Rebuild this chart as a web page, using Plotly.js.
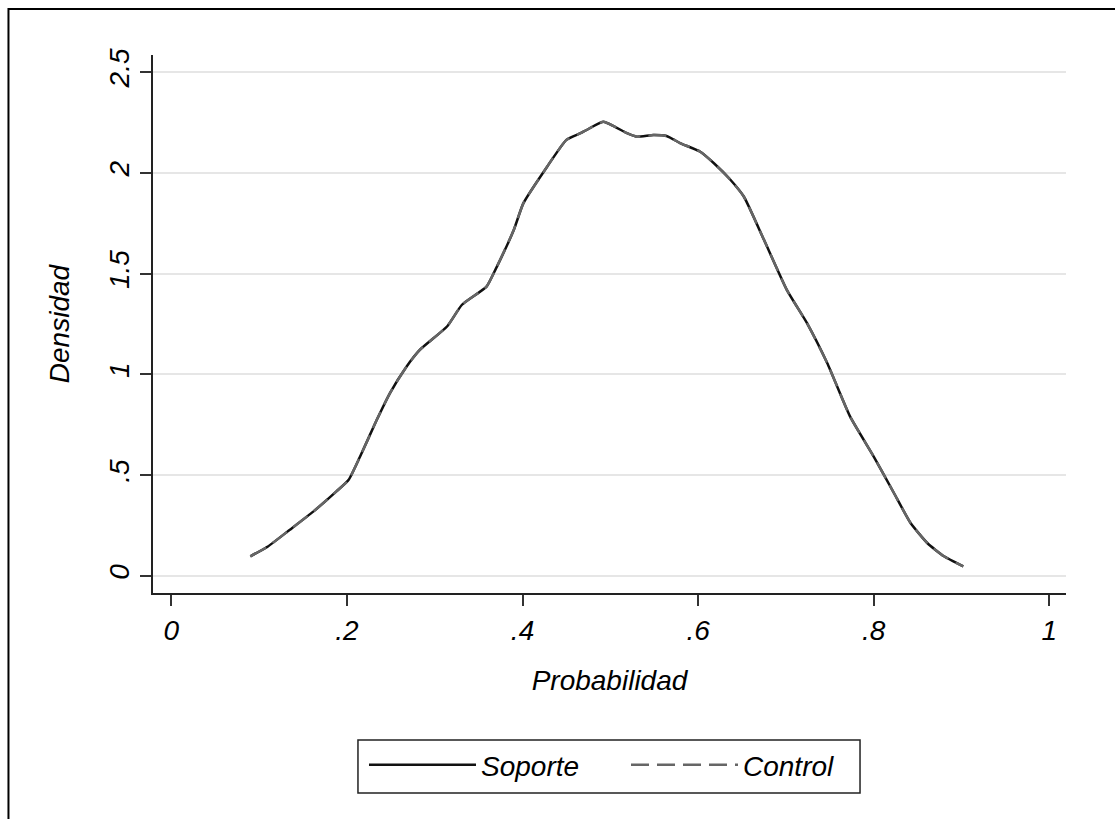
<!DOCTYPE html>
<html>
<head>
<meta charset="utf-8">
<script src="https://cdn.plot.ly/plotly-3.0.1.min.js"></script>
<style>html,body{margin:0;padding:0;background:#fff;}#chart{width:1115px;height:819px;}</style>
</head>
<body>
<div id="chart"></div>
<script>
// Data (kernel density of propensity score)
const probabilidad = [0.090, 0.110, 0.135, 0.162, 0.188, 0.202, 0.215, 0.234, 0.249, 0.268, 0.283, 0.314, 0.331, 0.359, 0.369, 0.390, 0.401, 0.428, 0.450, 0.466, 0.473, 0.492, 0.519, 0.530, 0.549, 0.564, 0.580, 0.602, 0.618, 0.637, 0.652, 0.675, 0.701, 0.724, 0.747, 0.773, 0.800, 0.823, 0.842, 0.861, 0.880, 0.902];
const densidadSoporte = [0.098, 0.147, 0.230, 0.321, 0.420, 0.478, 0.593, 0.775, 0.908, 1.040, 1.122, 1.238, 1.346, 1.436, 1.519, 1.717, 1.850, 2.031, 2.164, 2.197, 2.213, 2.254, 2.197, 2.180, 2.188, 2.183, 2.147, 2.106, 2.048, 1.965, 1.883, 1.668, 1.420, 1.255, 1.057, 0.792, 0.593, 0.412, 0.263, 0.164, 0.098, 0.048];
const densidadControl = [0.098, 0.147, 0.230, 0.321, 0.420, 0.478, 0.593, 0.775, 0.908, 1.040, 1.122, 1.238, 1.346, 1.436, 1.519, 1.717, 1.850, 2.031, 2.164, 2.197, 2.213, 2.254, 2.197, 2.180, 2.188, 2.183, 2.147, 2.106, 2.048, 1.965, 1.883, 1.668, 1.420, 1.255, 1.057, 0.792, 0.593, 0.412, 0.263, 0.164, 0.098, 0.048];
const seriesNames = ["Soporte", "Control"];
const xTickVals = [0, 0.2, 0.4, 0.6, 0.8, 1];
const xTickText = ["0", ".2", ".4", ".6", ".8", "1"];
const yTickVals = [0, 0.5, 1, 1.5, 2, 2.5];
const yTickText = ["0", ".5", "1", "1.5", "2", "2.5"];

const F = {family: "Liberation Sans, Arial, sans-serif", size: 28, color: "#000", style: "italic"};

const traces = [
  {x: probabilidad, y: densidadSoporte, name: seriesNames[0], type: "scatter", mode: "lines",
   line: {color: "#111", width: 2.5, shape: "spline", smoothing: 0.5}},
  {x: probabilidad, y: densidadControl, name: seriesNames[1], type: "scatter", mode: "lines",
   line: {color: "#666", width: 2.5, dash: "18px,8px", shape: "spline", smoothing: 0.5}}
];

const layout = {
  width: 1115, height: 819,
  paper_bgcolor: "#fff", plot_bgcolor: "#fff",
  margin: {l: 153, r: 49, t: 55, b: 226},
  font: F,
  showlegend: true,
  legend: {orientation: "h", x: 0.2311, xanchor: "left", y: -0.2732, yanchor: "top",
           borderwidth: 0, font: F, itemwidth: 107, entrywidth: 140,
           bgcolor: "rgba(0,0,0,0)"},
  xaxis: {range: [-0.0209, 1.019], tickvals: xTickVals, ticktext: xTickText,
          showgrid: false, zeroline: false, showline: true, linecolor: "#222", linewidth: 2,
          ticks: "outside", ticklen: 11, tickwidth: 2, tickcolor: "#333",
          tickfont: F, title: {text: "Probabilidad", font: F, standoff: 26}, automargin: false},
  yaxis: {range: [-0.084, 2.585], tickvals: yTickVals, ticktext: yTickText, tickangle: -90,
          showgrid: true, gridcolor: "#e6e6e6", gridwidth: 2, zeroline: false,
          showline: true, linecolor: "#222", linewidth: 2,
          ticks: "outside", ticklen: 11, tickwidth: 2, tickcolor: "#333",
          tickfont: F, title: {text: "Densidad", font: F, standoff: 26}, automargin: false},
  shapes: [
    {type: "rect", xref: "paper", yref: "paper", x0: -0.1583, x1: 1.07, y0: -0.45, y1: 1.0855,
     line: {color: "#000", width: 2}, fillcolor: "rgba(0,0,0,0)", layer: "below"},
    {type: "rect", xref: "paper", yref: "paper", x0: 0.2245, x1: 0.7744, y0: -0.3717, y1: -0.2732,
     line: {color: "#222", width: 1.5}, fillcolor: "rgba(0,0,0,0)", layer: "below"}
  ]
};

Plotly.newPlot("chart", traces, layout, {staticPlot: true, displayModeBar: false});
</script>
</body>
</html>
